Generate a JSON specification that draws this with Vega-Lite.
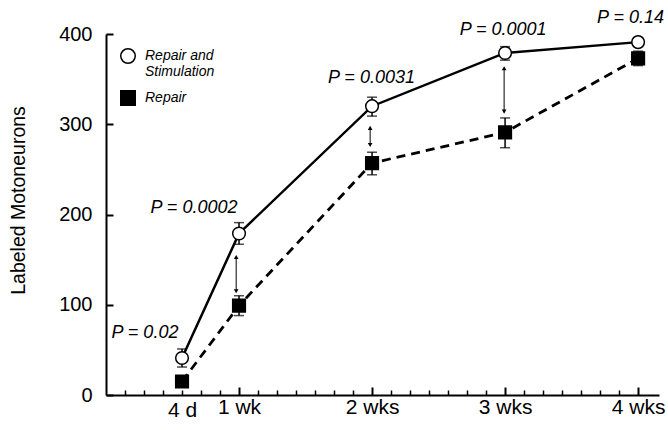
{
  "$schema": "https://vega.github.io/schema/vega-lite/v6.json",
  "width": 553,
  "height": 361,
  "autosize": {"type": "none"},
  "padding": {"left": 106, "top": 34, "right": 9, "bottom": 35},
  "background": "white",
  "config": {
    "view": {"stroke": null},
    "font": "Liberation Sans",
    "axis": {"grid": false, "domainColor": "black", "tickColor": "black", "labelColor": "black", "titleColor": "black"},
    "legend": {
      "orient": "none", "legendX": 14, "legendY": 14,
      "labelFontSize": 14, "labelFontStyle": "italic", "labelColor": "black",
      "symbolSize": 210, "symbolStrokeColor": "black", "symbolStrokeWidth": 1.5,
      "labelOffset": 9, "rowPadding": 8
    }
  },
  "datasets": {
    "means": [
      {"day": 4, "group": "Repair and Stimulation", "y": 41, "lo": 31, "hi": 51},
      {"day": 7, "group": "Repair and Stimulation", "y": 179, "lo": 167, "hi": 191},
      {"day": 14, "group": "Repair and Stimulation", "y": 320, "lo": 309, "hi": 330},
      {"day": 21, "group": "Repair and Stimulation", "y": 379, "lo": 371, "hi": 386},
      {"day": 28, "group": "Repair and Stimulation", "y": 391, "lo": 388, "hi": 394},
      {"day": 4, "group": "Repair", "y": 15, "lo": 12, "hi": 18},
      {"day": 7, "group": "Repair", "y": 99, "lo": 88, "hi": 110},
      {"day": 14, "group": "Repair", "y": 257, "lo": 244, "hi": 269},
      {"day": 21, "group": "Repair", "y": 291, "lo": 274, "hi": 307},
      {"day": 28, "group": "Repair", "y": 373, "lo": 365, "hi": 381}
    ],
    "arrows": [
      {"day": 6.85, "y": 153, "y2": 115},
      {"day": 13.9, "y": 296, "y2": 277},
      {"day": 20.95, "y": 362, "y2": 314}
    ],
    "pvals": [
      {"day": 2.05, "y": 69, "label": "P = 0.02"},
      {"day": 4.63, "y": 207, "label": "P = 0.0002"},
      {"day": 13.97, "y": 351, "label": "P = 0.0031"},
      {"day": 20.9, "y": 404, "label": "P = 0.0001"},
      {"day": 27.6, "y": 418, "label": "P = 0.14"}
    ]
  },
  "encoding": {
    "x": {
      "field": "day", "type": "quantitative",
      "scale": {"domain": [0, 29.1], "nice": false, "zero": false},
      "axis": {
        "title": null,
        "values": [1,2,3,4,5,6,7,8,9,10,11,12,13,14,15,16,17,18,19,20,21,22,23,24,25,26,27,28],
        "tickSize": {"condition": {"test": "datum.value % 7 == 0", "value": -8}, "value": -5},
        "tickWidth": {"condition": {"test": "datum.value % 7 == 0", "value": 2}, "value": 1.5},
        "labelExpr": "datum.value == 4 ? '4 d' : datum.value == 7 ? '1 wk' : datum.value == 14 ? '2 wks' : datum.value == 21 ? '3 wks' : datum.value == 28 ? '4 wks' : ''",
        "labelFontSize": 21,
        "labelPadding": 9,
        "labelFlush": false,
        "labelOverlap": false,
        "domainWidth": 2
      }
    },
    "y": {
      "field": "y", "type": "quantitative",
      "scale": {"domain": [0, 400], "nice": false},
      "axis": {
        "title": "Labeled Motoneurons",
        "values": [0, 100, 200, 300, 400],
        "tickSize": -7,
        "tickWidth": 2,
        "labelFontSize": 20,
        "labelPadding": 21,
        "titleFontSize": 19.5,
        "titleFontWeight": "normal",
        "titlePadding": 30,
        "titleY": 166,
        "domainWidth": 2
      }
    }
  },
  "layer": [
    {
      "data": {"name": "means"},
      "transform": [{"filter": "datum.group == 'Repair and Stimulation'"}],
      "mark": {"type": "line", "color": "black", "strokeWidth": 2.5}
    },
    {
      "data": {"name": "means"},
      "transform": [{"filter": "datum.group == 'Repair'"}],
      "mark": {"type": "line", "color": "black", "strokeWidth": 2.8, "strokeDash": [9, 6]}
    },
    {
      "data": {"name": "means"},
      "mark": {
        "type": "errorbar",
        "color": "black",
        "ticks": {"size": 10, "thickness": 1.5, "color": "black"},
        "rule": {"strokeWidth": 1.5, "color": "black"}
      },
      "encoding": {
        "y": {"field": "lo", "type": "quantitative", "scale": {"domain": [0, 400], "nice": false}},
        "y2": {"field": "hi"},
        "detail": {"field": "group", "type": "nominal"}
      }
    },
    {
      "data": {"name": "means"},
      "mark": {"type": "point", "filled": true, "size": 160, "strokeWidth": 1.5, "opacity": 1},
      "encoding": {
        "shape": {
          "field": "group", "type": "nominal",
          "scale": {"domain": ["Repair and Stimulation", "Repair"], "range": ["circle", "square"]},
          "legend": {
            "title": null,
            "labelExpr": "datum.label == 'Repair and Stimulation' ? ['Repair and', 'Stimulation'] : datum.label"
          }
        },
        "fill": {
          "field": "group", "type": "nominal",
          "scale": {"domain": ["Repair and Stimulation", "Repair"], "range": ["white", "black"]},
          "legend": {
            "title": null,
            "labelExpr": "datum.label == 'Repair and Stimulation' ? ['Repair and', 'Stimulation'] : datum.label"
          }
        },
        "stroke": {
          "field": "group", "type": "nominal",
          "scale": {"domain": ["Repair and Stimulation", "Repair"], "range": ["black", "black"]},
          "legend": {
            "title": null,
            "labelExpr": "datum.label == 'Repair and Stimulation' ? ['Repair and', 'Stimulation'] : datum.label"
          }
        }
      }
    },
    {
      "data": {"name": "arrows"},
      "mark": {"type": "rule", "color": "black", "strokeWidth": 1},
      "encoding": {"y2": {"field": "y2"}}
    },
    {
      "data": {"name": "arrows"},
      "mark": {"type": "point", "shape": "triangle-up", "filled": true, "color": "black", "size": 22, "opacity": 1}
    },
    {
      "data": {"name": "arrows"},
      "mark": {"type": "point", "shape": "triangle-down", "filled": true, "color": "black", "size": 22, "opacity": 1},
      "encoding": {
        "y": {"field": "y2", "type": "quantitative", "scale": {"domain": [0, 400], "nice": false}}
      }
    },
    {
      "data": {"name": "pvals"},
      "mark": {"type": "text", "fontSize": 18, "fontStyle": "italic", "font": "Liberation Sans", "color": "black", "align": "center", "baseline": "middle"},
      "encoding": {"text": {"field": "label"}}
    }
  ]
}
